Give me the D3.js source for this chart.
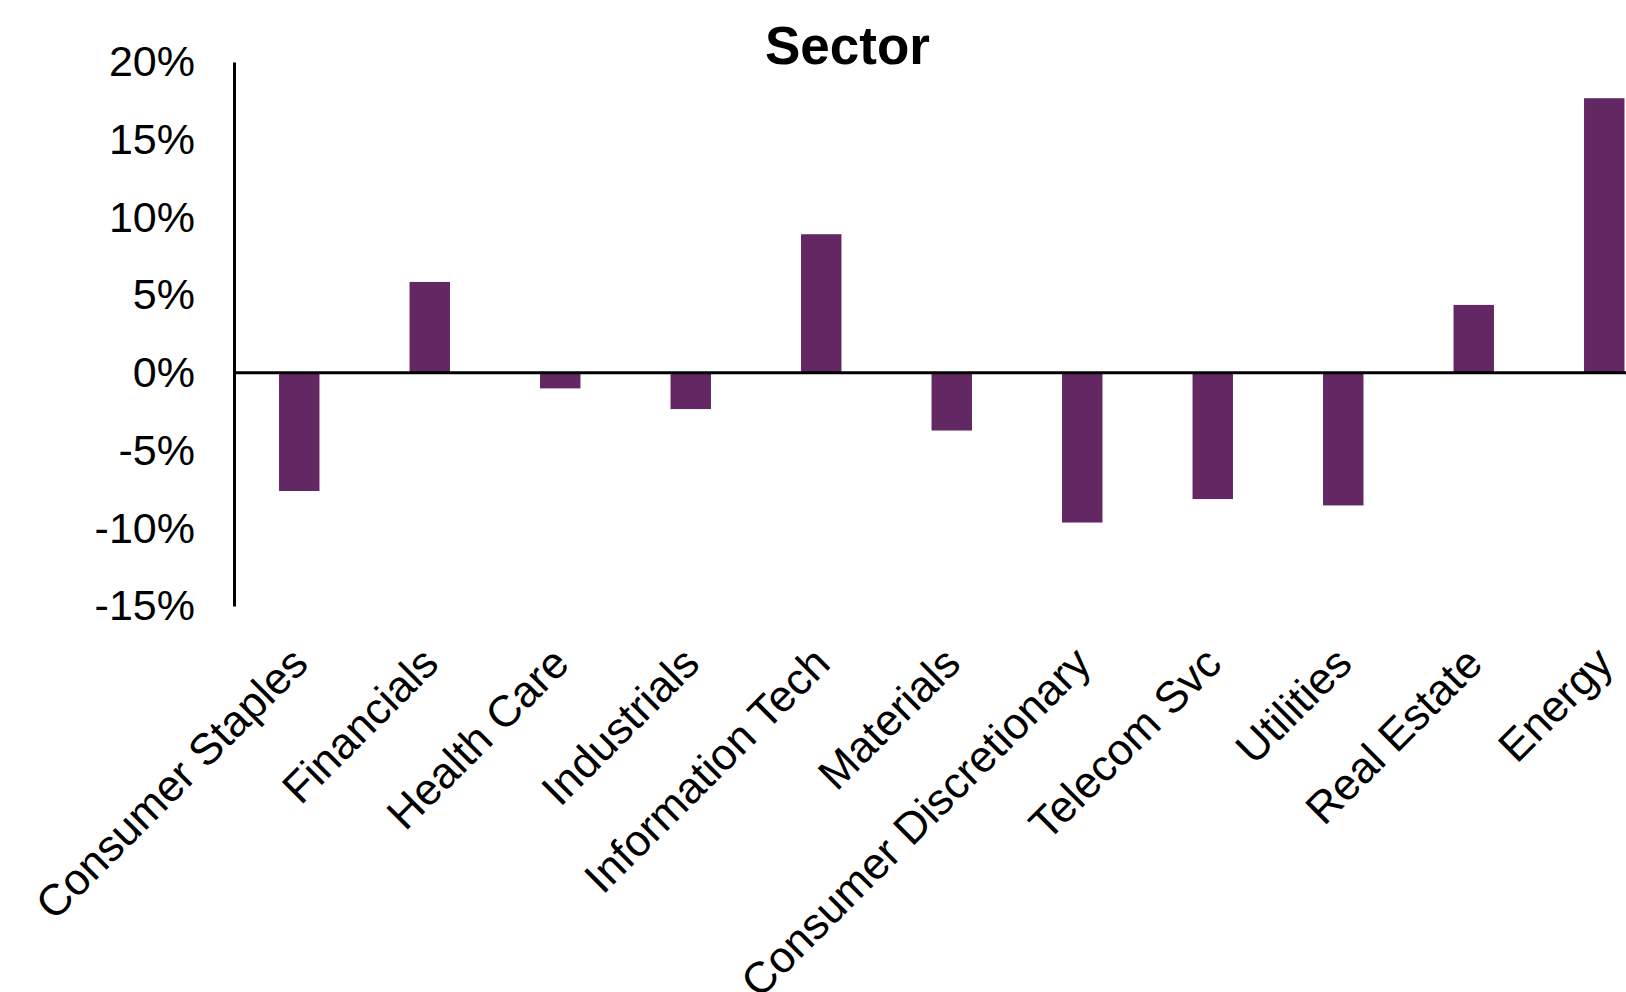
<!DOCTYPE html>
<html>
<head>
<meta charset="utf-8">
<script src="https://cdn.jsdelivr.net/npm/d3@7/dist/d3.min.js"></script>
<style>
  html, body { margin: 0; padding: 0; background: #fff; }
  svg { display: block; font-family: "Liberation Sans", Arial, sans-serif; }
</style>
</head>
<body>
<svg id="chart" width="1626" height="992"></svg>
<script>
const categories = ["Consumer Staples", "Financials", "Health Care", "Industrials", "Information Tech",
  "Materials", "Consumer Discretionary", "Telecom Svc", "Utilities", "Real Estate", "Energy"];
const values = [-7.6, 5.85, -1.0, -2.33, 8.92, -3.71, -9.63, -8.12, -8.53, 4.37, 17.67];
const yTicks = [-15, -10, -5, 0, 5, 10, 15, 20];
const title = "Sector";

const svg = d3.select("#chart");
svg.append("rect").attr("width", 1626).attr("height", 992).attr("fill", "#fff");

const x = d3.scaleBand().domain(categories).range([234, 234 + 11 * 130.5]).paddingInner(0.69).paddingOuter(0.345);
const y = d3.scaleLinear().domain([-15, 20]).range([606, 62]);

// bars
svg.append("g").selectAll("rect").data(values).join("rect")
  .attr("x", (d, i) => x(categories[i]))
  .attr("width", x.bandwidth())
  .attr("y", d => y(Math.max(0, d)))
  .attr("height", d => Math.abs(y(d) - y(0)))
  .attr("fill", "#632864");

// y axis
const yAxis = svg.append("g").attr("transform", "translate(234,0)")
  .call(d3.axisLeft(y).tickValues(yTicks).tickSize(0).tickSizeOuter(0).tickPadding(39).tickFormat(d => d + "%"));
yAxis.select(".domain").attr("stroke", "#000").attr("stroke-width", 3);
yAxis.selectAll("text").attr("font-size", 43).attr("fill", "#000").attr("font-family", "Liberation Sans, Arial, sans-serif");

// zero line
svg.append("line")
  .attr("x1", x.range()[0]).attr("x2", x.range()[1])
  .attr("y1", y(0)).attr("y2", y(0))
  .attr("stroke", "#000").attr("stroke-width", 3);

// x labels
const xAxis = svg.append("g").attr("transform", "translate(0,666)")
  .call(d3.axisBottom(x).tickSize(0).tickSizeOuter(0));
xAxis.select(".domain").remove();
xAxis.selectAll("text")
  .attr("y", 0).attr("dy", 0).attr("x", 0)
  .attr("transform", "translate(11,0) rotate(-45)")
  .attr("text-anchor", "end")
  .attr("font-size", 44).attr("fill", "#000").attr("font-family", "Liberation Sans, Arial, sans-serif");

// title
svg.append("text").attr("x", 847.5).attr("y", 64).attr("text-anchor", "middle")
  .attr("font-size", 53).attr("font-weight", "bold").attr("fill", "#000").text(title);
</script>
</body>
</html>
